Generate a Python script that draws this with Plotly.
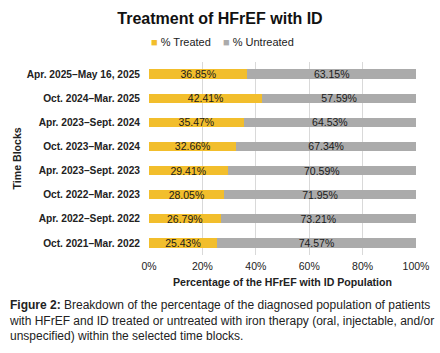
import plotly.graph_objects as go

categories = ["Oct. 2021–Mar. 2022", "Apr. 2022–Sept. 2022", "Oct. 2022–Mar. 2023",
              "Apr. 2023–Sept. 2023", "Oct. 2023–Mar. 2024", "Apr. 2023–Sept. 2024",
              "Oct. 2024–Mar. 2025", "Apr. 2025–May 16, 2025"]
treated = [25.43, 26.79, 28.05, 29.41, 32.66, 35.47, 42.41, 36.85]
untreated = [74.57, 73.21, 71.95, 70.59, 67.34, 64.53, 57.59, 63.15]
x_ticks = [0, 20, 40, 60, 80, 100]
series_names = ["% Treated", "% Untreated"]
series_colors = ["#F2BE2C", "#ABABAB"]

font = "Liberation Sans, Arial, sans-serif"
W, H = 440, 353
L, R, T, B = 149, 24, 62, 98
PW, PH = W - L - R, H - T - B

fig = go.Figure()
for vals, name, color in zip([treated, untreated], series_names, series_colors):
    fig.add_trace(go.Bar(y=categories, x=vals, orientation="h", name=name,
                         marker=dict(color=color, line=dict(width=0)),
                         text=[f"{v:.2f}%" for v in vals], textposition="inside",
                         insidetextanchor="middle", textangle=0,
                         textfont=dict(family=font, size=10.5, color="#1a1a1a"),
                         showlegend=False))

fig.update_layout(
    barmode="stack", bargap=0.62,
    width=W, height=H,
    margin=dict(l=L, r=R, t=T, b=B, autoexpand=False),
    paper_bgcolor="white", plot_bgcolor="white",
    font=dict(family=font, color="#1a1a1a"),
    title=dict(text="<b>Treatment of HFrEF with ID</b>", x=0.5, xanchor="center",
               y=1 - 18/H, yanchor="middle", font=dict(size=16, color="#111")),
    showlegend=False,
    uniformtext=dict(minsize=8, mode="show"),
)
fig.update_xaxes(range=[0, 100], tickvals=x_ticks, ticktext=[f"{v}%" for v in x_ticks],
                 showgrid=True, gridcolor="#D9D9D9", gridwidth=1, zeroline=False,
                 tickfont=dict(size=10.5, color="#222"), ticks="", fixedrange=True,
                 automargin=False, ticklabelstandoff=3,
                 title=dict(text="<b>Percentage of the HFrEF with ID Population</b>",
                            font=dict(size=10.6, color="#222"), standoff=8))
fig.update_yaxes(categoryorder="array", categoryarray=categories, automargin=False,
                 tickfont=dict(size=10.2, color="#222"), ticks="", ticklabelstandoff=8,
                 showline=False, fixedrange=True,
                 tickprefix="<b>", ticksuffix="</b>")

# legend drawn as text
legend_x = [149, 221]
for name, color, lx in zip(series_names, series_colors, legend_x):
    fig.add_annotation(text=f"<span style='color:{color}'>■</span> {name}",
                       xref="paper", yref="paper", x=(lx - L) / PW, y=1 + (T - 42) / PH,
                       xanchor="left", yanchor="middle", showarrow=False,
                       font=dict(size=11, color="#222"))

fig.add_annotation(text="<b>Time Blocks</b>", textangle=-90, xref="paper", yref="paper",
                   x=(16 - L) / PW, y=0.5, xanchor="center", yanchor="middle",
                   showarrow=False, font=dict(size=10.6, color="#222"))

caption = ("<b>Figure 2:</b> Breakdown of the percentage of the diagnosed population of patients<br>"
           "with HFrEF and ID treated or untreated with iron therapy (oral, injectable, and/or<br>"
           "unspecified) within the selected time blocks.")
fig.add_annotation(text=caption, xref="paper", yref="paper", x=(7 - L) / PW, y=-(296 - (T + PH)) / PH,
                   xanchor="left", yanchor="top", align="left", showarrow=False,
                   font=dict(size=12, color="#222"))

fig.write_html("out.html")
